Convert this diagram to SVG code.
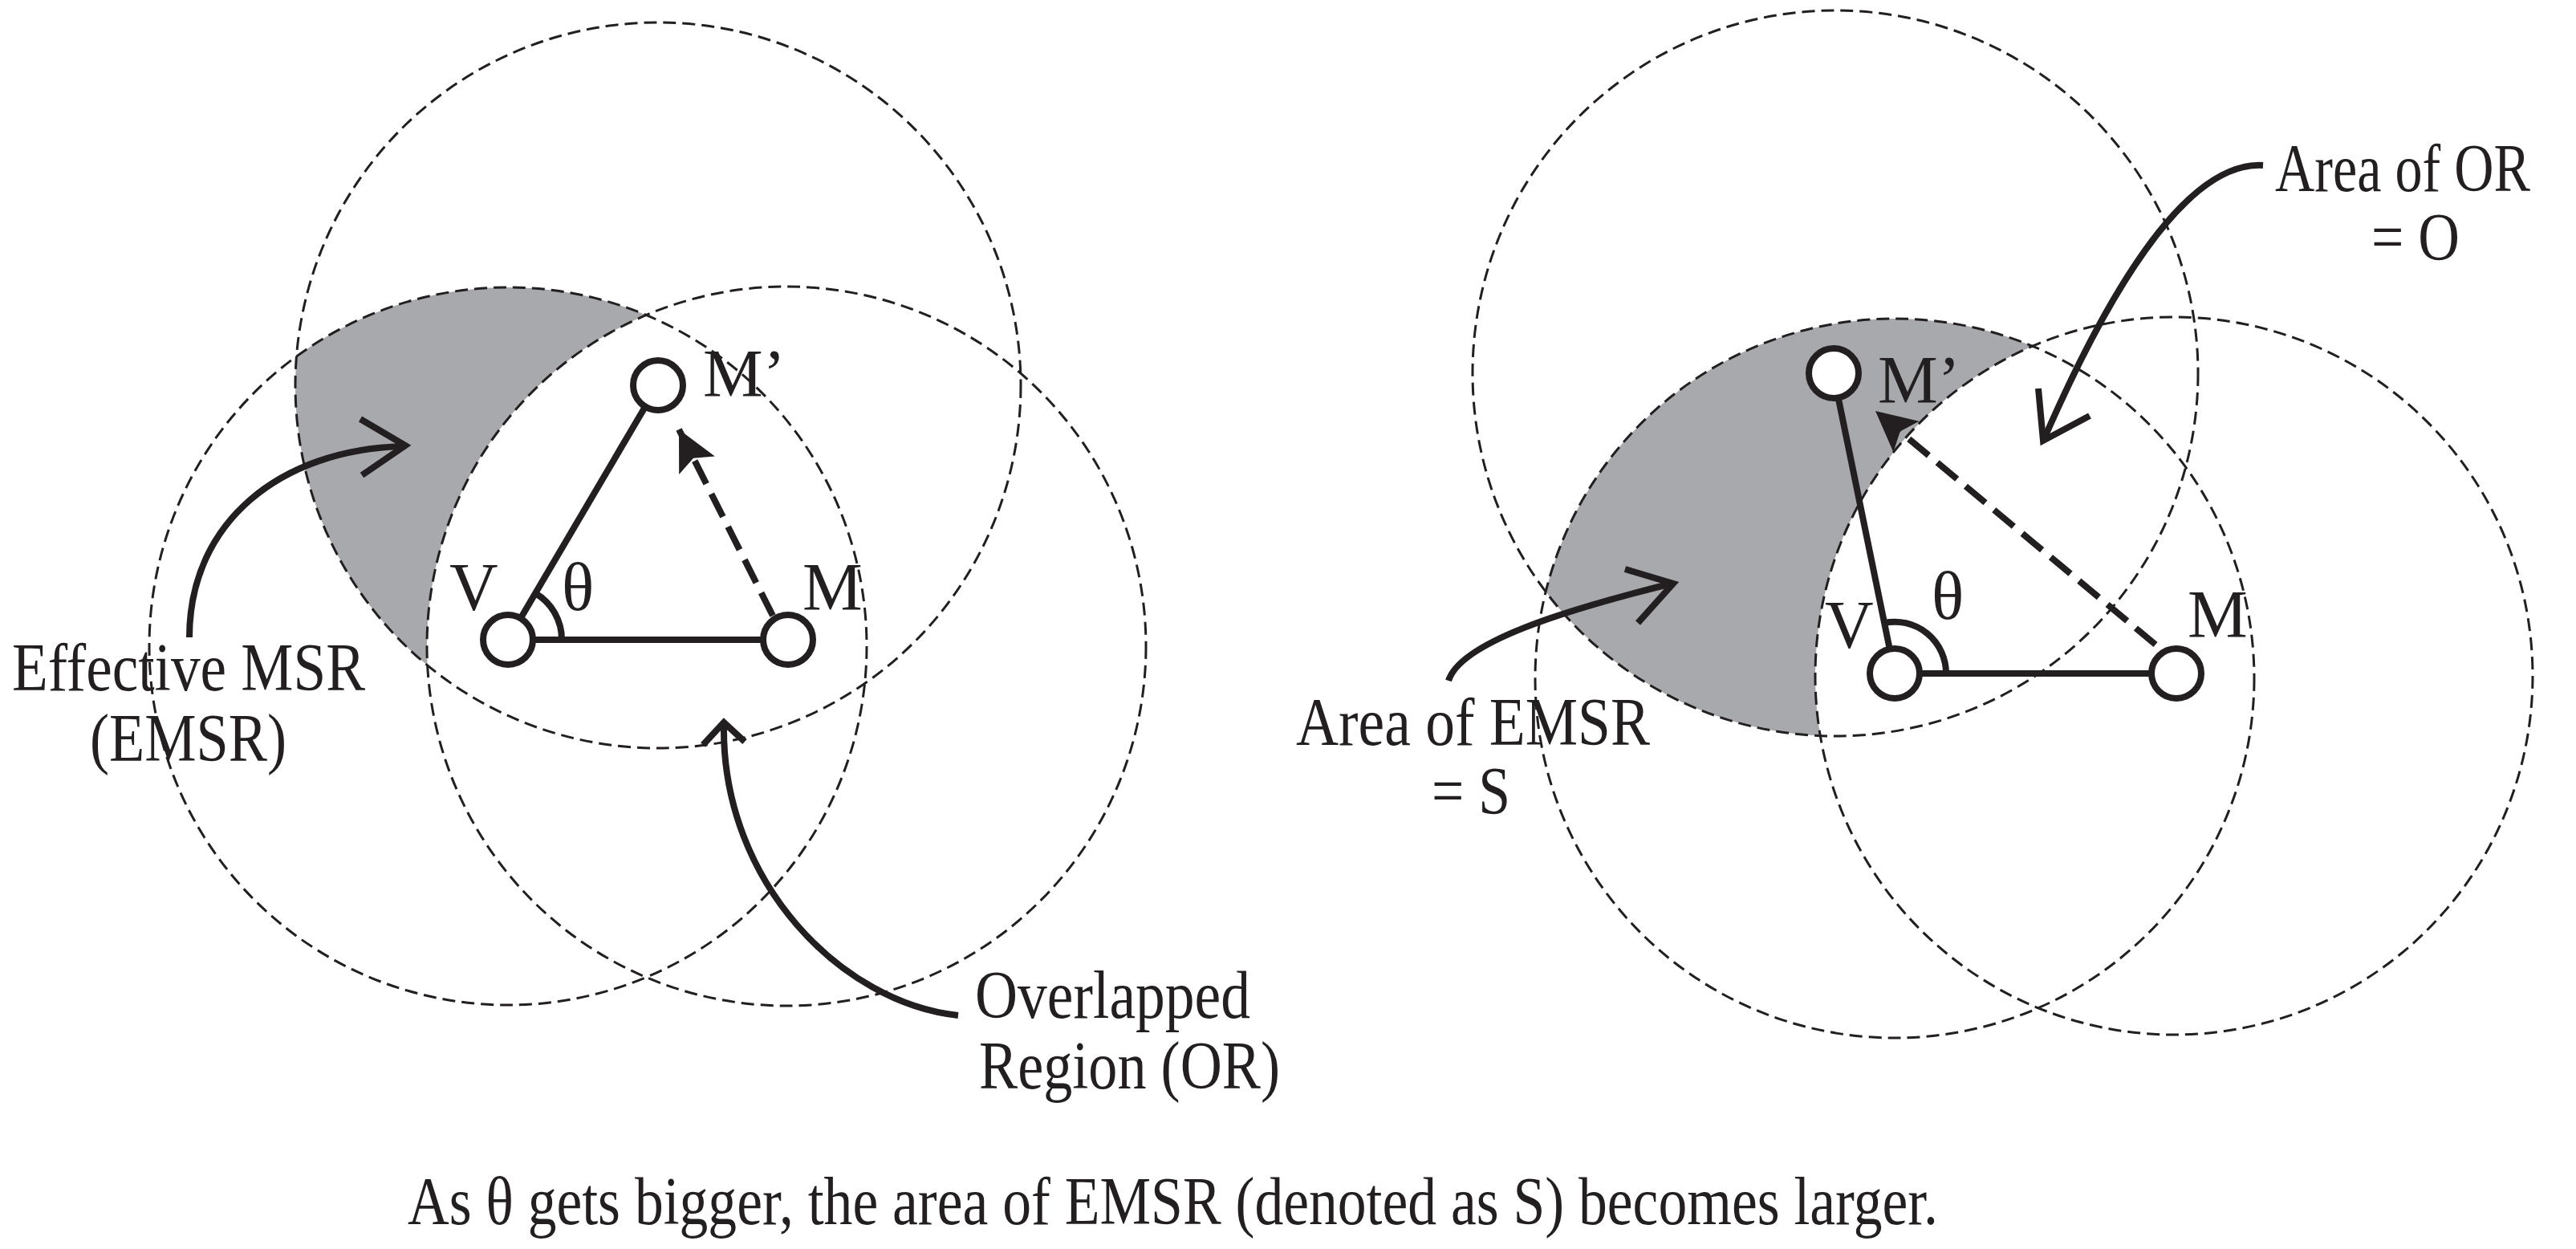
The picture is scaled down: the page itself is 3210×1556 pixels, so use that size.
<svg xmlns="http://www.w3.org/2000/svg" width="3210" height="1556" viewBox="0 0 3210 1556">
<style>
.c{fill:none;stroke:#231f20;stroke-width:3;stroke-dasharray:16 8}
.n{fill:#fff;stroke:#231f20;stroke-width:8}
.l{fill:none;stroke:#231f20;stroke-width:8}
.d{fill:none;stroke:#231f20;stroke-width:8;stroke-dasharray:32 14}
.a{fill:none;stroke:#231f20;stroke-width:8;stroke-linejoin:miter}
text{font-family:"Liberation Serif","Times New Roman",serif;font-size:84px;fill:#231f20}
</style>
<defs>
<marker id="tri" markerUnits="userSpaceOnUse" markerWidth="60" markerHeight="60" refX="50" refY="25" orient="auto"><path d="M0,0 L50,25 L0,50 L10,25 Z" fill="#231f20"/></marker>
<clipPath id="cl1"><circle cx="820" cy="480" r="452"/></clipPath>
<mask id="m1"><rect width="3210" height="1556" fill="#fff"/><circle cx="980" cy="805" r="448" fill="#000"/></mask>
<clipPath id="cl2"><circle cx="2287" cy="465" r="452"/></clipPath>
<mask id="m2"><rect width="3210" height="1556" fill="#fff"/><circle cx="2709" cy="842" r="447" fill="#000"/></mask>
</defs>
<rect width="3210" height="1556" fill="#fff"/>
<g id="shade">
<circle cx="633" cy="805" r="447" fill="#a7a9ac" clip-path="url(#cl1)" mask="url(#m1)"/>
<circle cx="2361" cy="845" r="448" fill="#a7a9ac" clip-path="url(#cl2)" mask="url(#m2)"/>
</g>
<g id="circles">
<circle class="c" cx="820" cy="480" r="452"/>
<circle class="c" cx="633" cy="805" r="447"/>
<circle class="c" cx="980" cy="805" r="448"/>
<circle class="c" cx="2287" cy="465" r="452"/>
<circle class="c" cx="2361" cy="845" r="448"/>
<circle class="c" cx="2709" cy="842" r="447"/>
</g>
<g id="connectors">
<line class="l" x1="633" y1="797" x2="982" y2="797"/>
<line class="l" x1="633" y1="797" x2="805" y2="505"/>
<path class="l" d="M700,797 A67,67 0 0 0 667,739"/>
<line class="d" x1="963" y1="767" x2="846" y2="535" marker-end="url(#tri)"/>
<line class="l" x1="2361" y1="839" x2="2712" y2="839"/>
<line class="l" x1="2361" y1="839" x2="2291" y2="497"/>
<path class="l" d="M2425,839 A64,64 0 0 0 2348,776"/>
<line class="d" x1="2686" y1="803" x2="2337" y2="512" marker-end="url(#tri)"/>
<path class="l" d="M236,794 C236,650 350,560 502,556"/>
<path class="a" d="M449,522 L505,555 L451,592"/>
<path class="l" d="M1194,1265 C1050,1250 900,1100 902,905"/>
<path class="a" d="M876,928 L902,900 L928,924"/>
<path class="l" d="M1805,848 C1820,800 1950,760 2083,727"/>
<path class="a" d="M2025,709 L2085,727 L2041,776"/>
<path class="l" d="M2820,206 C2720,200 2620,380 2548,545"/>
<path class="a" d="M2540,484 L2546,549 L2604,518"/>
</g>
<g id="nodes">
<g id="V1"><circle class="n" cx="633" cy="797" r="31"/><text x="560" y="760">V</text></g>
<g id="M1"><circle class="n" cx="982" cy="797" r="31"/><text x="1000" y="760">M</text></g>
<g id="Mp1"><circle class="n" cx="820" cy="480" r="31"/><text x="876" y="494">M’</text></g>
<text x="700" y="760">θ</text>
<g id="V2"><circle class="n" cx="2361" cy="839" r="31"/><text x="2274" y="807">V</text></g>
<g id="M2"><circle class="n" cx="2712" cy="839" r="31"/><text x="2726" y="794">M</text></g>
<g id="Mp2"><circle class="n" cx="2285" cy="465" r="31"/><text x="2340" y="502">M’</text></g>
<text x="2407" y="771">θ</text>
</g>
<g id="labels">
<text x="15" y="860" textLength="440" lengthAdjust="spacingAndGlyphs">Effective MSR</text>
<text x="112" y="948" textLength="245" lengthAdjust="spacingAndGlyphs">(EMSR)</text>
<text x="1215" y="1268" textLength="343" lengthAdjust="spacingAndGlyphs">Overlapped</text>
<text x="1220" y="1356" textLength="375" lengthAdjust="spacingAndGlyphs">Region (OR)</text>
<text x="1615" y="928" textLength="441" lengthAdjust="spacingAndGlyphs">Area of EMSR</text>
<text x="1784" y="1014" textLength="98" lengthAdjust="spacingAndGlyphs">= S</text>
<text x="2835" y="238" textLength="318" lengthAdjust="spacingAndGlyphs">Area of OR</text>
<text x="2955" y="324" textLength="110" lengthAdjust="spacingAndGlyphs">= O</text>
<text x="508" y="1525" textLength="1907" lengthAdjust="spacingAndGlyphs">As θ gets bigger, the area of EMSR (denoted as S) becomes larger.</text>
</g>
</svg>
